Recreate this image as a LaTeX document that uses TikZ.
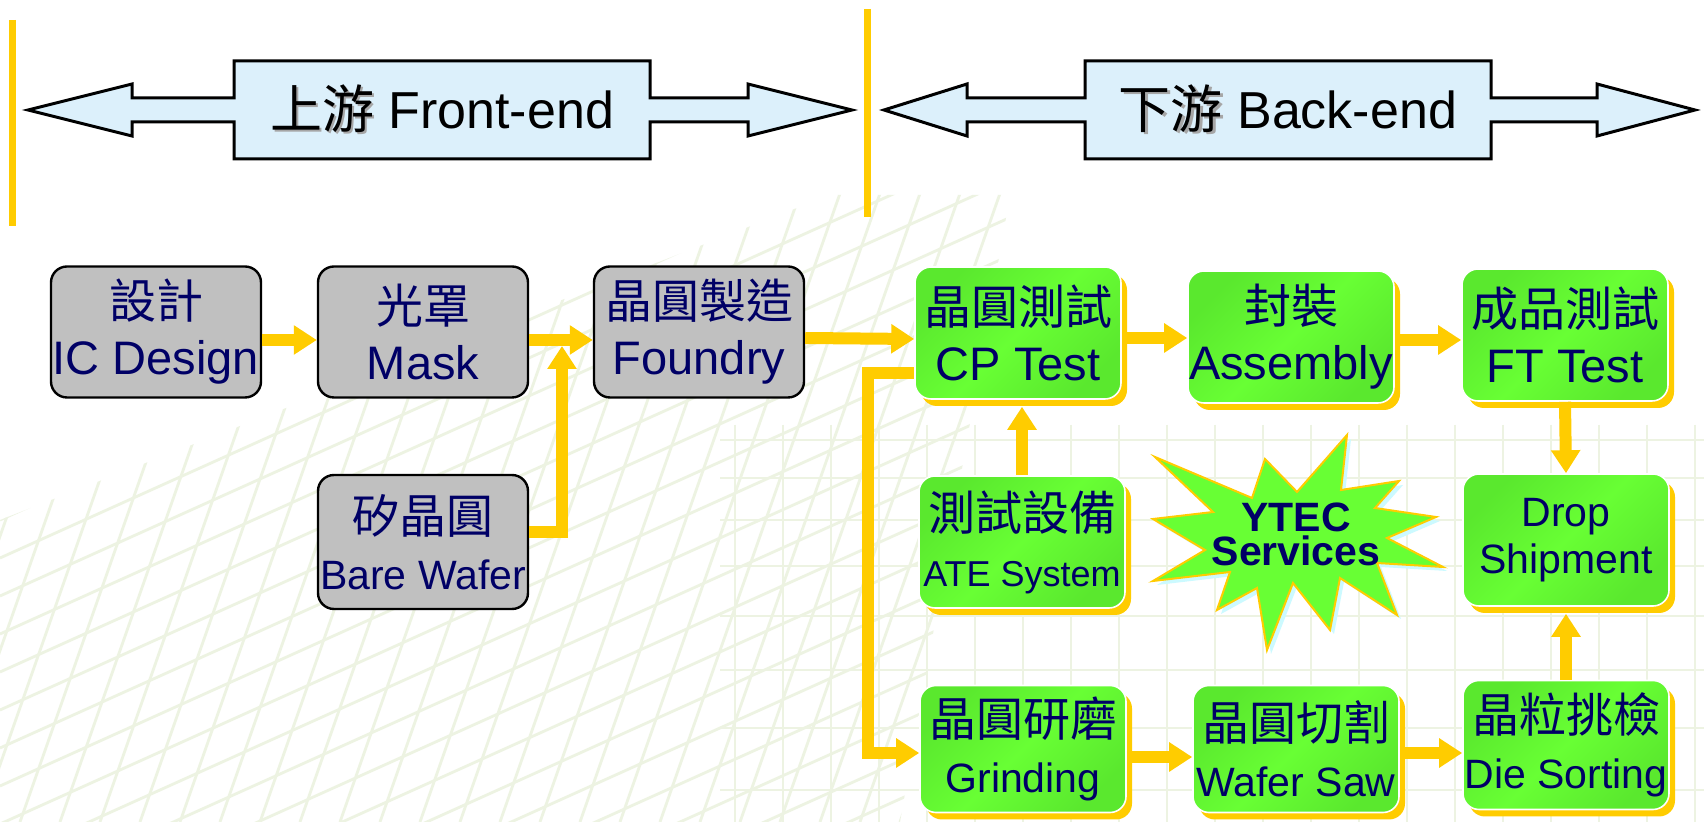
\documentclass[tikz,border=0pt]{standalone}
\usepackage{fontspec}
\setmainfont{Liberation Sans}
\newfontfamily\zhfont{Noto Sans CJK TC}
\newcommand{\zh}[1]{{\zhfont #1}}
\newcommand{\zhshadow}[1]{{\zhfont\makebox[0pt][l]{\kern1.2pt\raisebox{-1.2pt}{\textcolor{black!35}{#1}}}#1}}
\usetikzlibrary{arrows.meta,calc,shadows}
\definecolor{ytgold}{RGB}{255,204,0}
\definecolor{ytgray}{RGB}{192,192,192}
\definecolor{ytnavy}{RGB}{0,0,102}
\definecolor{ytgreen}{RGB}{104,255,52}
\definecolor{ytgreendark}{RGB}{90,232,46}
\definecolor{ytsky}{RGB}{220,240,251}
\definecolor{ytgrid}{RGB}{237,243,226}
\definecolor{ytcyan}{RGB}{204,250,255}
\tikzset{
    gridline/.style={ytgrid, line width=1.4pt},
    bar/.style={ytgold, line width=3.5pt},
    hdarrow/.style={draw=black, line width=1.5pt, fill=ytsky},
    hdtext/.style={font=\fontsize{26}{30}\selectfont, text=black, inner sep=0pt},
    box/.style={rounded corners=8pt, minimum width=105pt, minimum height=65.5pt,
        inner sep=0pt, align=center, text=ytnavy, font=\fontsize{23.5}{28}\selectfont},
    graybox/.style={box, draw=black, line width=1.2pt, fill=ytgray},
    greenbox/.style={box, minimum width=103pt, minimum height=66pt, draw=white, line width=0.8pt,
        left color=ytgreendark, right color=ytgreendark, middle color=ytgreen, shading angle=45,
        drop shadow={shadow xshift=3pt, shadow yshift=-3.5pt, fill=ytgold, opacity=1}},
    flow/.style={ytgold, line width=6pt, -{Triangle[length=11.5pt,width=14pt]}}
}

\begin{document}
\begin{tikzpicture}[x=0.5pt,y=-0.5pt]
    \path[fill=white, use as bounding box] (0,0) rectangle (1704,822);
    \begin{scope}
        \clip (0,822) -- (0,520) -- (830,195) -- (1010,195) -- (900,822) -- cycle;
        \foreach \yy in {520,558,...,1640} \draw[gridline] (0,\yy) -- (1100,{\yy-495});
        \foreach \xx in {-300,-260,...,1000} \draw[gridline] (\xx,822) -- ({\xx+245},122);
    \end{scope}
    \begin{scope}
        \clip (720,425) rectangle (1704,822);
        \foreach \yy in {440,478,520,566,616,670,728,790} \draw[gridline] (720,\yy) -- (1704,\yy);
        \foreach \xx in {735,783,...,1704} \draw[gridline] (\xx,425) -- (\xx,822);
    \end{scope}

    \draw[bar] (12,20) -- (12,226);
    \draw[bar] (867,9) -- (867,217);
    \foreach \ta/\ha/\ba/\bb/\hb/\tb/\nm/\lbl in {28/132/234/650/748/852/up/{\zhshadow{上游} Front-end},
            884/967/1085/1491/1597/1695/down/{\zhshadow{下游} Back-end}} {
        \draw[hdarrow] (\ta,110) -- (\ha,84) -- (\ha,98) -- (\ba,98) -- (\ba,61) -- (\bb,61) -- (\bb,98)
            -- (\hb,98) -- (\hb,84) -- (\tb,110) -- (\hb,136) -- (\hb,122) -- (\bb,122) -- (\bb,159)
            -- (\ba,159) -- (\ba,122) -- (\ha,122) -- (\ha,136) -- cycle;
        \node[hdtext] (\nm) at ({(\ba+\bb)/2},110) {\lbl};
    }

    \node[graybox] (ic) at (156,332) {\zh{設計}\\IC Design};
    \node[graybox] (mask) at (423,332) {\zh{光罩}\\Mask};
    \node[graybox] (fab) at (699,332) {\zh{晶圓製造}\\Foundry};
    \node[graybox, minimum height=67pt] (bare) at (423,542) {\zh{矽晶圓}\\{\fontsize{20.5}{24}\selectfont Bare Wafer}};

    \node[greenbox] (cp) at (1018,333) {\zh{晶圓測試}\\CP Test};
    \node[greenbox] (asm) at (1291,337) {\zh{封裝}\\Assembly};
    \node[greenbox] (ft) at (1565,335) {\zh{成品測試}\\FT Test};
    \node[greenbox] (ate) at (1022,542) {\zh{測試設備}\\{\fontsize{18}{22}\selectfont ATE System}};
    \node[greenbox, font=\fontsize{20.5}{23.5}\selectfont] (drop) at (1566,540) {Drop\\Shipment};
    \node[greenbox, minimum height=63.5pt] (grind) at (1023,749) {\zh{晶圓研磨}\\{\fontsize{20.5}{24}\selectfont Grinding}};
    \node[greenbox, minimum height=63.5pt] (saw) at (1296,749) {\zh{晶圓切割}\\{\fontsize{20.5}{24}\selectfont Wafer Saw}};
    \node[greenbox, minimum height=64.5pt] (sort) at (1566,745) {\zh{晶粒挑檢}\\{\fontsize{20.5}{24}\selectfont Die Sorting}};

    \coordinate (join) at (562,346);
    \draw[flow] ([yshift=-4pt]ic.east) -- ([yshift=-4pt]mask.west);
    \draw[flow] ([yshift=-4pt]mask.east) -- ([yshift=-4pt]fab.west);
    \draw[flow] ([yshift=5pt]bare.east) -| (join);
    \draw[flow] ([yshift=-3pt]fab.east) -- ([yshift=-3pt]cp.west);
    \draw[flow] ([yshift=-20pt]cp.west) -- ++(-46,0) |- ([yshift=-2pt]grind.west);
    \draw[flow] ([yshift=-2.5pt]cp.east) -- ([yshift=-0.5pt]asm.west);
    \draw[flow] ([yshift=-1.5pt]asm.east) -- ([yshift=-2.5pt]ft.west);
    \draw[flow] (ft.south) -- (drop.north);
    \draw[flow, shorten >=3.5pt] (ate.north) -- (ate.north |- cp.south);
    \draw[flow] ([yshift=-4pt]grind.east) -- ([yshift=-4pt]saw.west);
    \draw[flow] ([yshift=-2pt]saw.east) -- ([yshift=-4pt]sort.west);
    \draw[flow, shorten >=3.5pt] (sort.north) -- (drop.south);

    \foreach \dd/\col/\ln in {4/ytcyan/none, 0/ytgreen/ytgold} {
        \draw[fill=\col, draw=\ln, line width=1pt, shift={(\dd,\dd)}] (1155,457) -- (1252,498) -- (1265,459)
            -- (1297,492) -- (1347,435) -- (1341,490) -- (1399,481) -- (1375,508) -- (1436,517)
            -- (1387,538) -- (1443,567) -- (1377,563) -- (1397,615) -- (1340,578) -- (1330,630)
            -- (1293,583) -- (1267,650) -- (1257,588) -- (1217,610) -- (1230,572) -- (1153,581)
            -- (1205,550) -- (1153,519) -- (1213,512) -- cycle;
    }
    \node[font=\fontsize{20.5}{17}\selectfont\bfseries, text=ytnavy, align=center, inner sep=0pt] (ytec) at (1296,534) {YTEC\\Services};
\end{tikzpicture}
\end{document}
